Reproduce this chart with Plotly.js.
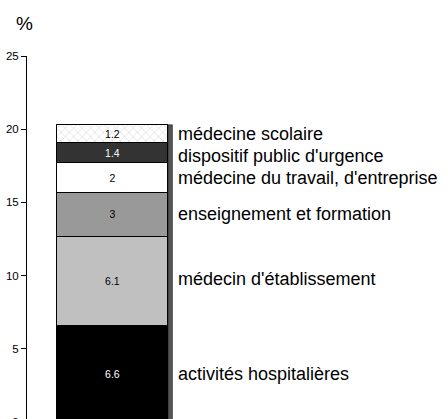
<!DOCTYPE html>
<html><head><meta charset="utf-8">
<script src="https://cdn.plot.ly/plotly-3.0.1.min.js"></script>
<style>html,body{margin:0;padding:0;overflow:hidden;background:#fff;}</style>
</head><body><div id="chart"></div>
<script>
const categories = ['activités hospitalières', "médecin d'établissement", 'enseignement et formation', "médecine du travail, d'entreprise", "dispositif public d'urgence", 'médecine scolaire'];
const values = [6.6, 6.1, 3, 2, 1.4, 1.2];
const fillColors = ['#000000', '#c0c0c0', '#999999', '#ffffff', '#333333', '#ffffff'];
const textColors = ['#ffffff', '#000000', '#000000', '#000000', '#ffffff', '#000000'];
const labelShift = [0, 2, 0, 0, -3, 0];
const yTicks = [0, 5, 10, 15, 20, 25];
const unitLabel = '%';

const FONT = 'Liberation Sans, Arial, Helvetica, sans-serif';
const traces = categories.map((c, i) => {
  const marker = {color: fillColors[i], line: {color: '#000', width: 1}};
  if (i === 5) marker.pattern = {shape: 'x', fgcolor: '#c8c8c8', bgcolor: '#ffffff', size: 6, solidity: 0.15};
  return {
    type: 'bar', x: [0], y: [values[i]], width: [1], name: c,
    marker: marker, text: [String(values[i])], textposition: 'inside',
    insidetextanchor: 'middle', constraintext: 'none',
    textfont: {family: FONT, size: 10.5, color: textColors[i]},
    hoverinfo: 'skip', showlegend: false
  };
});

let cum = 0;
const annotations = [];
categories.forEach((c, i) => {
  const mid = cum + values[i] / 2;
  cum += values[i];
  annotations.push({x: 0.5, y: mid, xref: 'x', yref: 'y', text: c, showarrow: false,
    xanchor: 'left', yanchor: 'middle', xshift: 8, yshift: labelShift[i],
    font: {family: FONT, size: 18, color: '#000'}});
});
const total = cum;
annotations.push({x: 0, y: 1, xref: 'paper', yref: 'paper', text: unitLabel, showarrow: false,
  xanchor: 'center', yanchor: 'bottom', yshift: 20, xshift: -3, font: {family: FONT, size: 19, color: '#000'}});

const shapes = [{type: 'rect', xref: 'x', yref: 'y', x0: 0.5, x1: 0.54, y0: 0, y1: total,
  fillcolor: '#555555', line: {color: '#000', width: 0.5}, layer: 'below'}];

Plotly.newPlot('chart', traces, {
  width: 448, height: 430,
  margin: {l: 27, r: 1, t: 56, b: 8},
  barmode: 'stack',
  paper_bgcolor: '#fff', plot_bgcolor: '#fff',
  xaxis: {range: [-0.770, 3.014], visible: false, fixedrange: true},
  yaxis: {range: [0, 25], tickvals: yTicks, ticktext: yTicks.map(String), ticks: 'outside', ticklen: 5,
    tickcolor: '#000', showline: true, linecolor: '#000', linewidth: 1, showgrid: false, zeroline: false,
    tickfont: {family: FONT, size: 11.5, color: '#000'}},
  annotations: annotations, shapes: shapes,
  font: {family: FONT}
}, {staticPlot: true});
</script></body></html>
